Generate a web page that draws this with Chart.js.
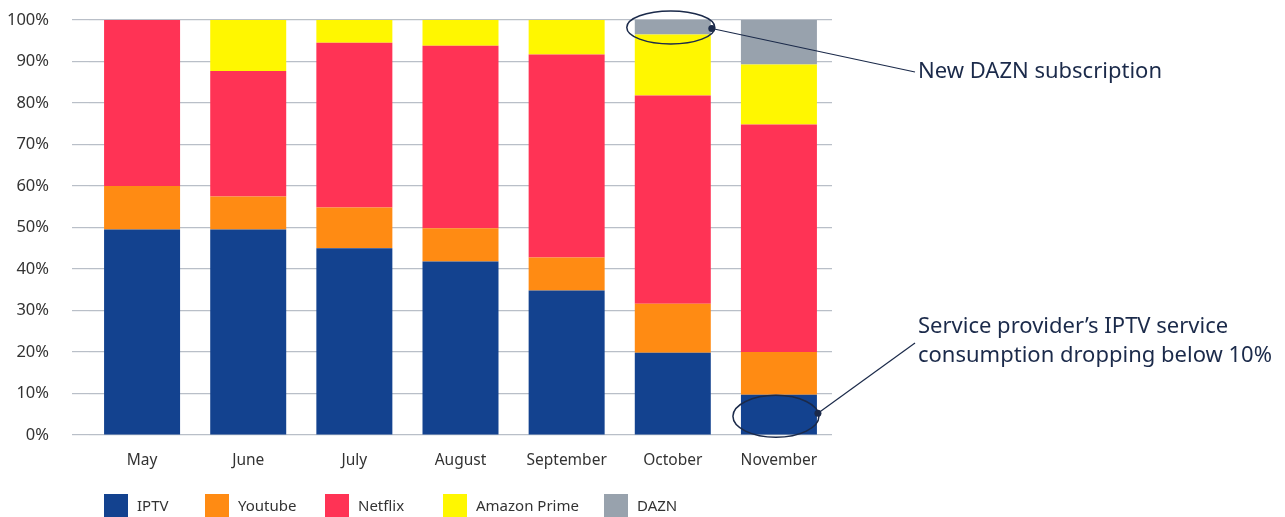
<!DOCTYPE html>
<html>
<head>
<meta charset="utf-8">
<script src="https://cdn.jsdelivr.net/npm/chart.js@4/dist/chart.umd.min.js"></script>
<style>
  html, body { margin: 0; padding: 0; background: #fff; }
  #wrap { width: 1285px; height: 517px; position: relative; }
</style>
</head>
<body>
<div id="wrap"><canvas id="chart" width="1285" height="517"></canvas></div>
<script>
(function() {
    'use strict';

    // Months on the x axis
    const months = ['May', 'June', 'July', 'August', 'September', 'October', 'November'];

    // Share of consumption per service (%), bottom to top
    const iptv    = [49.5, 49.5, 45.0, 41.8, 34.8, 19.8,  9.7];
    const youtube = [10.5,  8.0,  9.8,  8.0,  8.0, 11.8, 10.3];
    const netflix = [40.0, 30.2, 39.7, 44.0, 48.9, 50.2, 54.8];
    const amazon  = [ 0.0, 12.3,  5.5,  6.2,  8.3, 14.7, 14.5];
    const dazn    = [ 0.0,  0.0,  0.0,  0.0,  0.0,  3.5, 10.7];

    const yTicks = [0, 10, 20, 30, 40, 50, 60, 70, 80, 90, 100];

    const colors = {
        IPTV: '#13428f',
        Youtube: '#ff8b13',
        Netflix: '#ff3355',
        'Amazon Prime': '#fff700',
        DAZN: '#98a2ad'
    };

    const FONT = '"Noto Sans", sans-serif';
    const INK = '#1b2a4a';

    function ds(label, data) {
        return {
            label: label,
            data: data,
            backgroundColor: colors[label],
            borderWidth: 0,
            barPercentage: 0.716,
            categoryPercentage: 1
        };
    }

    // Custom legend + call-out annotations
    const extras = {
        id: 'extras',
        afterDraw: function(chart) {
            const c = chart.ctx;
            const x = chart.scales.x;
            const y = chart.scales.y;

            // legend
            const legendX = [104, 205, 325, 443, 604];
            c.save();
            c.font = '15px ' + FONT;
            c.textBaseline = 'middle';
            c.textAlign = 'left';
            chart.data.datasets.forEach(function(d, i) {
                c.fillStyle = d.backgroundColor;
                c.fillRect(legendX[i], 494, 24, 23);
                c.fillStyle = '#333';
                c.fillText(d.label, legendX[i] + 33, 507);
            });
            c.restore();

            c.save();
            c.strokeStyle = INK;
            c.fillStyle = INK;
            c.lineWidth = 1.5;

            // October DAZN call-out
            const ox = x.getPixelForValue(5);
            const oy = y.getPixelForValue(98.2);
            c.beginPath();
            c.ellipse(ox - 2, oy, 44, 16.5, 0, 0, Math.PI * 2);
            c.stroke();
            c.lineWidth = 1.2;
            c.beginPath();
            c.moveTo(ox + 39, oy + 1);
            c.lineTo(915, 72);
            c.stroke();
            c.beginPath();
            c.arc(ox + 39, oy + 1, 3.5, 0, Math.PI * 2);
            c.fill();

            // November IPTV call-out
            const nx = x.getPixelForValue(6);
            const ny = y.getPixelForValue(4.5);
            c.lineWidth = 1.5;
            c.beginPath();
            c.ellipse(nx - 3, ny, 43, 21, 0, 0, Math.PI * 2);
            c.stroke();
            c.lineWidth = 1.2;
            c.beginPath();
            c.moveTo(nx + 39, ny - 3);
            c.lineTo(915, 343);
            c.stroke();
            c.beginPath();
            c.arc(nx + 39, ny - 3, 3.5, 0, Math.PI * 2);
            c.fill();

            c.font = '22px ' + FONT;
            c.textBaseline = 'middle';
            c.textAlign = 'left';
            c.fillText('New DAZN subscription', 918, 72);
            c.fillText('Service provider\u2019s IPTV service', 918, 327);
            c.fillText('consumption dropping below 10%', 918, 356);
            c.restore();
        }
    };

    new Chart(document.getElementById('chart'), {
        type: 'bar',
        data: {
            labels: months,
            datasets: [
                ds('IPTV', iptv),
                ds('Youtube', youtube),
                ds('Netflix', netflix),
                ds('Amazon Prime', amazon),
                ds('DAZN', dazn)
            ]
        },
        options: {
            responsive: false,
            animation: false,
            layout: { padding: { top: 20, right: 453, bottom: 0, left: 0 } },
            plugins: {
                legend: { display: false },
                title: { display: false },
                tooltip: { enabled: false }
            },
            scales: {
                x: {
                    stacked: true,
                    grid: { display: false, drawTicks: false },
                    border: { display: false },
                    ticks: {
                        padding: 16,
                        color: '#333',
                        font: { family: FONT, size: 15.5 }
                    },
                    afterFit: function(s) { s.height = 82; }
                },
                y: {
                    stacked: true,
                    min: 0,
                    max: 100,
                    afterBuildTicks: function(s) {
                        s.ticks = yTicks.map(function(v) { return { value: v }; });
                    },
                    grid: {
                        color: '#b9bfc8',
                        lineWidth: 1.2,
                        drawTicks: true,
                        tickLength: 17
                    },
                    border: { display: false },
                    ticks: {
                        padding: 23,
                        color: '#333',
                        font: { family: FONT, size: 16.5 },
                        callback: function(v) { return v + '%'; }
                    },
                    afterFit: function(s) {
                        s.width = 89;
                        s.paddingTop = 0;
                        s.paddingBottom = 0;
                    }
                }
            }
        },
        plugins: [extras]
    });
})();
</script>
</body>
</html>
